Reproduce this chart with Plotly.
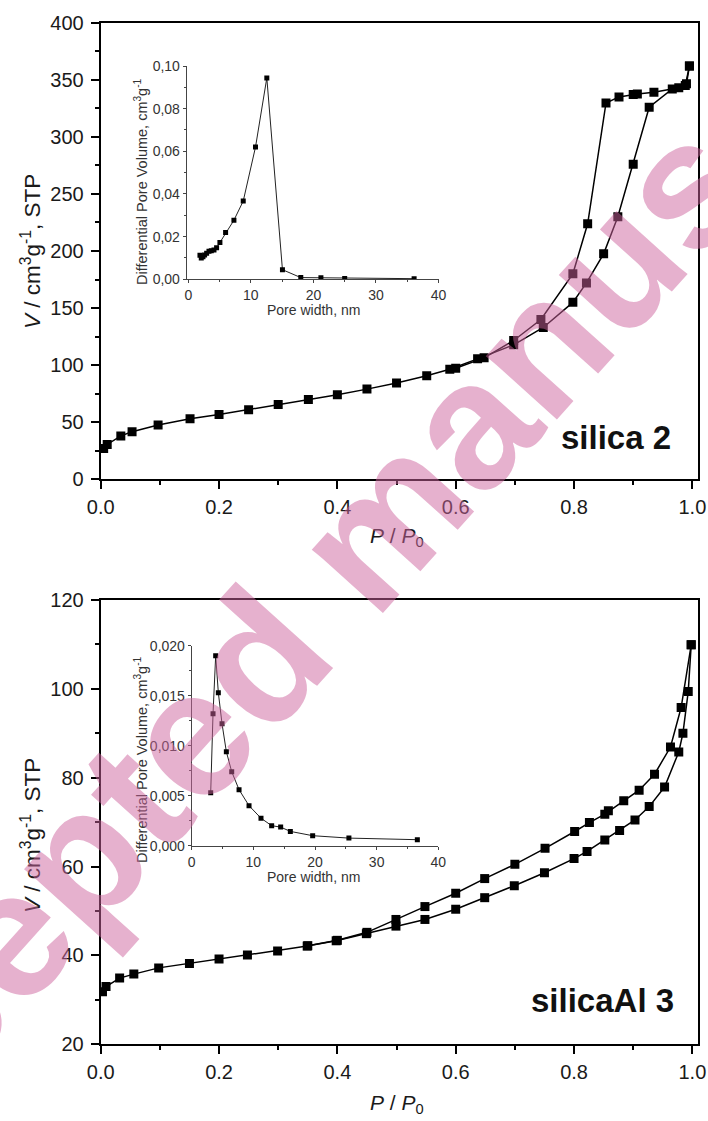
import plotly.graph_objects as go

W, H = 708, 1121

# ---------------- data: silica 2 isotherm ----------------
p_ads_1 = [0.005, 0.011, 0.034, 0.053, 0.097, 0.151, 0.20, 0.25, 0.30, 0.351, 0.40, 0.45, 0.50, 0.551,
           0.59, 0.637, 0.698, 0.748, 0.798, 0.821, 0.85, 0.874, 0.90, 0.927, 0.966, 0.988, 0.995]
v_ads_1 = [27, 30.5, 38, 41.6, 47.5, 53, 56.8, 61, 65.6, 70, 74, 79, 84.4, 90.8,
           96.4, 105.5, 117.8, 133, 155, 172, 197.5, 230, 276, 326, 342, 345, 362]
p_des_1 = [0.995, 0.99, 0.977, 0.935, 0.907, 0.90, 0.876, 0.854, 0.823, 0.798, 0.744, 0.698, 0.648, 0.60]
v_des_1 = [362, 346.6, 343, 339, 337.6, 337, 335, 329.7, 223.8, 180, 140, 121.6, 106.4, 97.3]

# pore size distribution, silica 2
pw_1 = [1.86, 2.07, 2.34, 2.6, 2.93, 3.3, 3.67, 4.1, 4.52, 5.05, 5.96, 7.29, 8.78, 10.74, 12.55,
        15.05, 17.98, 21.2, 25.0, 36.1]
dv_1 = [0.0113, 0.0100, 0.0106, 0.0114, 0.0122, 0.0131, 0.0134, 0.0137, 0.0148, 0.0172, 0.0219,
        0.0277, 0.0367, 0.062, 0.0944, 0.0045, 0.0008, 0.0007, 0.0004, 0.0003]

# ---------------- data: silicaAl 3 isotherm ----------------
p_ads_2 = [0.003, 0.009, 0.032, 0.056, 0.098, 0.15, 0.20, 0.248, 0.299, 0.349, 0.398, 0.449, 0.499,
           0.548, 0.60, 0.649, 0.699, 0.75, 0.80, 0.822, 0.852, 0.877, 0.903, 0.927, 0.953, 0.977,
           0.984, 0.993, 0.998]
v_ads_2 = [31.8, 33, 34.9, 35.8, 37.2, 38.2, 39.2, 40.1, 41, 42.1, 43.3, 44.9, 46.6,
           48.1, 50.4, 53, 55.7, 58.6, 61.8, 63.4, 66.0, 68.1, 70.5, 73.5, 77.9, 85.8,
           90, 99.4, 109.9]
p_des_2 = [0.998, 0.981, 0.963, 0.936, 0.91, 0.884, 0.858, 0.852, 0.826, 0.801, 0.751, 0.70, 0.649,
           0.60, 0.548, 0.499, 0.45, 0.40, 0.35]
v_des_2 = [109.9, 95.8, 86.9, 80.8, 77.2, 74.8, 72.55, 71.8, 69.9, 67.9, 64.1, 60.5, 57.3,
           54, 51, 48.1, 45.2, 43.4, 42.2]

# pore size distribution, silicaAl 3
pw_2 = [3.08, 3.46, 3.89, 4.32, 4.92, 5.62, 6.49, 7.68, 9.3, 11.24, 12.97, 14.43, 16.0, 19.62, 25.5, 36.6]
dv_2 = [0.0053, 0.0132, 0.019, 0.0153, 0.0122, 0.0094, 0.0074, 0.0056, 0.0040, 0.00275, 0.0020,
        0.00186, 0.00143, 0.0010, 0.00076, 0.0006]

# tick labels
main_x_ticks = [0.0, 0.2, 0.4, 0.6, 0.8, 1.0]
top_y_ticks = [0, 50, 100, 150, 200, 250, 300, 350, 400]
bot_y_ticks = [20, 40, 60, 80, 100, 120]
inset1_y_ticks = [0.0, 0.02, 0.04, 0.06, 0.08, 0.10]
inset1_y_text = ["0,00", "0,02", "0,04", "0,06", "0,08", "0,10"]
inset2_y_ticks = [0.0, 0.005, 0.010, 0.015, 0.020]
inset2_y_text = ["0,000", "0,005", "0,010", "0,015", "0,020"]
inset_x_ticks = [0, 10, 20, 30, 40]

# ---------------- helpers ----------------
def px_x(x):
    return x / W

def px_y(y):
    return 1 - y / H

MAIN_FONT = "Liberation Sans, Arial, sans-serif"
NARROW_FONT = "Liberation Sans Narrow, Liberation Sans, Arial, sans-serif"

fig = go.Figure()

main_marker = dict(symbol="square", size=9, color="black")
main_line = dict(color="black", width=1.5)
ins_marker = dict(symbol="square", size=5, color="black")
ins_line = dict(color="#222", width=1)

fig.add_trace(go.Scatter(x=p_ads_1, y=v_ads_1, mode="lines+markers", marker=main_marker, line=main_line,
                         xaxis="x", yaxis="y", showlegend=False))
fig.add_trace(go.Scatter(x=p_des_1, y=v_des_1, mode="lines+markers", marker=main_marker, line=main_line,
                         xaxis="x", yaxis="y", showlegend=False))
fig.add_trace(go.Scatter(x=pw_1, y=dv_1, mode="lines+markers", marker=ins_marker, line=ins_line,
                         xaxis="x2", yaxis="y2", showlegend=False))
fig.add_trace(go.Scatter(x=p_ads_2, y=v_ads_2, mode="lines+markers", marker=main_marker, line=main_line,
                         xaxis="x3", yaxis="y3", showlegend=False))
fig.add_trace(go.Scatter(x=p_des_2, y=v_des_2, mode="lines+markers", marker=main_marker, line=main_line,
                         xaxis="x3", yaxis="y3", showlegend=False))
fig.add_trace(go.Scatter(x=pw_2, y=dv_2, mode="lines+markers", marker=ins_marker, line=ins_line,
                         xaxis="x4", yaxis="y4", showlegend=False))

main_dom_x = [px_x(100.7), px_x(698.3)]
top_dom_y = [px_y(479.3), px_y(22.7)]
bot_dom_y = [px_y(1044.3), px_y(600)]

def main_xaxis(anchor):
    return dict(domain=main_dom_x, range=[0, 1.01], anchor=anchor, tickvals=main_x_ticks, tickformat=".1f",
                showline=True, linecolor="black", linewidth=2, mirror=True, ticks="outside", ticklen=8,
                tickwidth=1.5, tickcolor="black", showgrid=False, zeroline=False, automargin=False,
                ticklabelstandoff=1,
                tickfont=dict(family=MAIN_FONT, size=20, color="#1a1a1a"),
                minor=dict(ticks="outside", ticklen=4, tickwidth=1.5, tickcolor="black", dtick=0.1, tick0=0,
                           showgrid=False))

def main_yaxis(anchor, dom, rng, ticks, minor_dt):
    return dict(domain=dom, range=rng, anchor=anchor, tickvals=ticks, showline=True, linecolor="black",
                linewidth=2, mirror=True, ticks="outside", ticklen=8, tickwidth=1.5, tickcolor="black",
                showgrid=False, zeroline=False, automargin=False, ticklabelstandoff=3,
                tickfont=dict(family=MAIN_FONT, size=20, color="#1a1a1a"),
                minor=dict(ticks="outside", ticklen=4, tickwidth=1.5, tickcolor="black", dtick=minor_dt,
                           tick0=0, showgrid=False))

def inset_xaxis(anchor, dom, rng):
    return dict(domain=dom, range=rng, anchor=anchor, tickvals=inset_x_ticks, showline=True,
                linecolor="#444", linewidth=1, mirror=False, ticks="outside", ticklen=3, tickwidth=1,
                tickcolor="#444", showgrid=False, zeroline=False, automargin=False,
                tickfont=dict(family=NARROW_FONT, size=14, color="#333"),
                minor=dict(ticks="outside", ticklen=2, tickwidth=1, tickcolor="#444", dtick=5, tick0=0,
                           showgrid=False))

def inset_yaxis(anchor, dom, rng, vals, text, minor_dt):
    return dict(domain=dom, range=rng, anchor=anchor, tickvals=vals, ticktext=text, showline=True,
                linecolor="#444", linewidth=1, mirror=False, ticks="outside", ticklen=3, tickwidth=1,
                tickcolor="#444", showgrid=False, zeroline=False, automargin=False,
                tickfont=dict(family=NARROW_FONT, size=14, color="#333"),
                minor=dict(ticks="outside", ticklen=2, tickwidth=1, tickcolor="#444", dtick=minor_dt,
                           tick0=0, showgrid=False))

fig.update_layout(
    width=W, height=H,
    margin=dict(l=0, r=0, t=0, b=0),
    paper_bgcolor="white", plot_bgcolor="rgba(0,0,0,0)",
    xaxis=main_xaxis("y"),
    yaxis=main_yaxis("x", top_dom_y, [0, 400], top_y_ticks, 25),
    xaxis2=inset_xaxis("y2", [px_x(186.7), px_x(438.5)], [-0.26, 40]),
    yaxis2=inset_yaxis("x2", [px_y(279.3), px_y(66)], [0, 0.1], inset1_y_ticks, inset1_y_text, 0.01),
    xaxis3=main_xaxis("y3"),
    yaxis3=main_yaxis("x3", bot_dom_y, [20, 120], bot_y_ticks, 10),
    xaxis4=inset_xaxis("y4", [px_x(191.7), px_x(438.3)], [0, 40]),
    yaxis4=inset_yaxis("x4", [px_y(845.7), px_y(645.7)], [0, 0.02], inset2_y_ticks, inset2_y_text, 0.0025),
)

ann = []
def add_text(text, x, y, size, family=MAIN_FONT, angle=0, xanchor="center", yanchor="middle",
             color="#1a1a1a", weight="normal"):
    ann.append(dict(text=text, x=px_x(x), y=px_y(y), xref="paper", yref="paper", showarrow=False,
                    textangle=angle, xanchor=xanchor, yanchor=yanchor,
                    font=dict(family=family, size=size, color=color, weight=weight)))

ytitle = "<i>V</i> / cm<sup>3</sup>g<sup>-1</sup>, STP"
xtitle = "<i>P</i> / <i>P</i><sub>0</sub>"
add_text(ytitle, 31, 252, 22.5, angle=-90)
add_text(ytitle, 31, 836, 22.5, angle=-90)
add_text(xtitle, 397, 537, 21)
add_text(xtitle, 397, 1104, 21)

itit = "Differential Pore Volume, cm<sup>3</sup>g<sup>-1</sup>"
add_text(itit, 141, 182, 14.5, family=NARROW_FONT, angle=-90, color="#333")
add_text(itit, 141, 760, 14.5, family=NARROW_FONT, angle=-90, color="#333")
add_text("Pore width, nm", 313, 310, 14, family=NARROW_FONT, color="#333")
add_text("Pore width, nm", 313, 877, 14, family=NARROW_FONT, color="#333")

add_text("silica 2", 673, 437, 33, xanchor="right", weight="bold", color="#111")
add_text("silicaAl 3", 676, 1000, 33, xanchor="right", weight="bold", color="#111")

# watermark
add_text("Accepted manuscript", 365, 540, 180, angle=-48, color="rgba(205,100,158,0.5)", weight="bold")

fig.update_layout(annotations=ann)
fig.write_html("out.html", config={"displayModeBar": False},
               post_script="document.body.style.margin='0';document.body.style.overflow='hidden';"
                           "document.documentElement.style.overflow='hidden';")
